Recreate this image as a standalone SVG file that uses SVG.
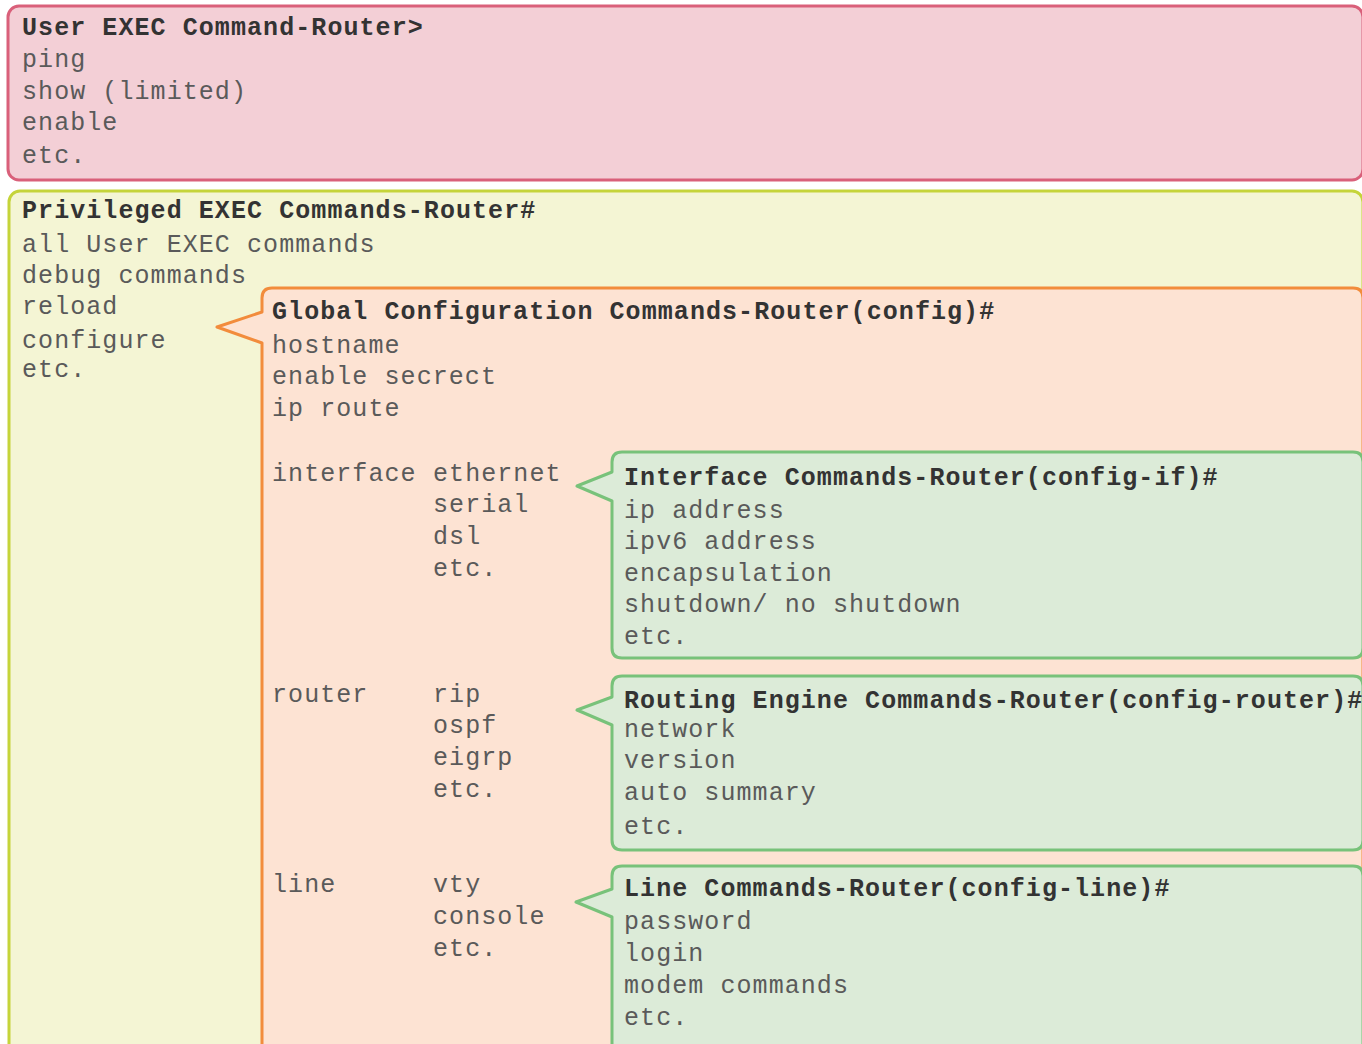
<svg xmlns="http://www.w3.org/2000/svg" width="1362" height="1044" viewBox="0 0 1362 1044">
<style>
text{font-family:"Liberation Mono","DejaVu Sans Mono",monospace;font-size:25px;letter-spacing:1.07px;fill:#5a5a5a}
.t{font-weight:bold;fill:#333333}
.box{stroke-width:3;stroke-linejoin:round}
.pink{fill:#f3cfd6;stroke:#d9607a}
.yel{fill:#f4f5d4;stroke:#c5d43a}
.org{fill:#fde3d3;stroke:#f28c3c}
.grn{fill:#dcebd8;stroke:#78c27a}
</style>
<rect width="1362" height="1044" fill="#ffffff"/>
<g id="user-exec">
<rect class="box pink" x="8" y="6" width="1355" height="174" rx="11"/>
<text class="t" x="22" y="35">User EXEC Command-Router&gt;</text>
<text x="22" y="67">ping</text>
<text x="22" y="99">show (limited)</text>
<text x="22" y="130">enable</text>
<text x="22" y="163">etc.</text>
</g>
<g id="privileged-exec">
<rect class="box yel" x="9" y="191" width="1354" height="880" rx="11"/>
<text class="t" x="22" y="218">Privileged EXEC Commands-Router#</text>
<text x="22" y="252">all User EXEC commands</text>
<text x="22" y="283">debug commands</text>
<text x="22" y="314">reload</text>
<text x="22" y="348">configure</text>
<text x="22" y="377">etc.</text>
</g>
<g id="global-config">
<path class="box org" d="M262,298 Q262,288 272,288 H1353 Q1363,288 1363,298 V1070 H262 V343 L217,327 L262,312 Z"/>
<text class="t" x="272" y="319">Global Configuration Commands-Router(config)#</text>
<text x="272" y="353">hostname</text>
<text x="272" y="384">enable secrect</text>
<text x="272" y="416">ip route</text>
<text x="272" y="481">interface</text>
<text x="433" y="481">ethernet</text>
<text x="433" y="512">serial</text>
<text x="433" y="544">dsl</text>
<text x="433" y="576">etc.</text>
<text x="272" y="702">router</text>
<text x="433" y="702">rip</text>
<text x="433" y="733">ospf</text>
<text x="433" y="765">eigrp</text>
<text x="433" y="797">etc.</text>
<text x="272" y="892">line</text>
<text x="433" y="892">vty</text>
<text x="433" y="924">console</text>
<text x="433" y="956">etc.</text>
</g>
<g id="interface-config">
<path class="box grn" d="M612,462 Q612,452 622,452 H1353 Q1363,452 1363,462 V648 Q1363,658 1353,658 H622 Q612,658 612,648 V501 L577,486 L612,472 Z"/>
<text class="t" x="624" y="485">Interface Commands-Router(config-if)#</text>
<text x="624" y="518">ip address</text>
<text x="624" y="549">ipv6 address</text>
<text x="624" y="581">encapsulation</text>
<text x="624" y="612">shutdown/ no shutdown</text>
<text x="624" y="644">etc.</text>
</g>
<g id="router-config">
<path class="box grn" d="M612,686 Q612,676 622,676 H1353 Q1363,676 1363,686 V840 Q1363,850 1353,850 H622 Q612,850 612,840 V725 L577,710 L612,697 Z"/>
<text class="t" x="624" y="708">Routing Engine Commands-Router(config-router)#</text>
<text x="624" y="737">network</text>
<text x="624" y="768">version</text>
<text x="624" y="800">auto summary</text>
<text x="624" y="834">etc.</text>
</g>
<g id="line-config">
<path class="box grn" d="M612,876 Q612,866 622,866 H1353 Q1363,866 1363,876 V1070 H612 V917 L576,902 L612,889 Z"/>
<text class="t" x="624" y="896">Line Commands-Router(config-line)#</text>
<text x="624" y="929">password</text>
<text x="624" y="961">login</text>
<text x="624" y="993">modem commands</text>
<text x="624" y="1025">etc.</text>
</g>
<g id="connectors"></g>
</svg>
